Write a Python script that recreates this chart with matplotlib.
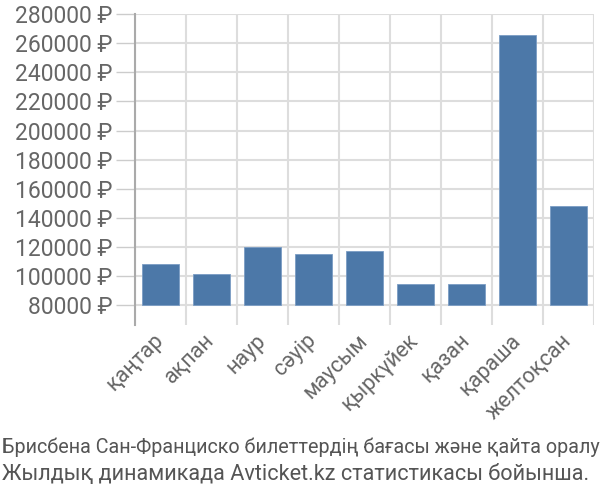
import matplotlib.pyplot as plt
import numpy as np

plt.rcParams['font.family'] = ['Roboto', 'DejaVu Sans']

# months and average ticket prices (rubles)
months = ['қаңтар', 'ақпан', 'наур', 'сәуір', 'маусым',
          'қыркүйек', 'қазан', 'қараша', 'желтоқсан']
prices = [108600, 101700, 120300, 115500, 117100, 94800, 94800, 265500, 147900]
yticks = list(range(80000, 280001, 20000))
base = 80000

fig = plt.figure(figsize=(6, 5), dpi=100)
ax = fig.add_axes([0.225, 0.35, 0.765, 0.622])

x = np.arange(len(months))
heights = [p - base for p in prices]
ax.bar(x, heights, bottom=base, width=0.72, color='#4c78a8',
       edgecolor='#7a9cc4', linewidth=0.6, zorder=3)

ax.set_xlim(-0.5, len(months) - 0.5)
ax.set_ylim(66550, 280000)

ax.set_yticks(yticks)
ax.set_yticklabels([f'{v} ₽' for v in yticks])
ax.set_xticks(x)
ax.set_xticklabels(months, rotation=45, ha='right', va='center',
                   rotation_mode='anchor')
ax.set_xticks(np.arange(len(months) + 1) - 0.5, minor=True)

ax.grid(axis='y', color='#dddddd', linewidth=1.5, zorder=0)
ax.grid(axis='x', which='minor', color='#dddddd', linewidth=1.5, zorder=0)
ax.tick_params(axis='x', which='major', length=0, pad=9, labelsize=15.5,
               labelcolor='#666666')
ax.tick_params(axis='x', which='minor', length=0)
ax.tick_params(axis='y', length=14, color='#cccccc', width=1, pad=2,
               labelsize=16.5, labelcolor='#666666')

for s in ['top', 'right', 'bottom']:
    ax.spines[s].set_visible(False)
ax.spines['left'].set_color('#aaaaaa')
ax.spines['left'].set_linewidth(1.5)

# first line is squeezed to the figure width in the original
fig.text(0.003, 0.105, 'Брисбена Сан-Франциско билеттердің бағасы және қайта оралу',
         fontsize=14.2, color='#555555', ha='left', va='center')
fig.text(0.003, 0.05, 'Жылдық динамикада Avticket.kz статистикасы бойынша.',
         fontsize=15.6, color='#555555', ha='left', va='center')

fig.savefig('out.png', dpi=100)
